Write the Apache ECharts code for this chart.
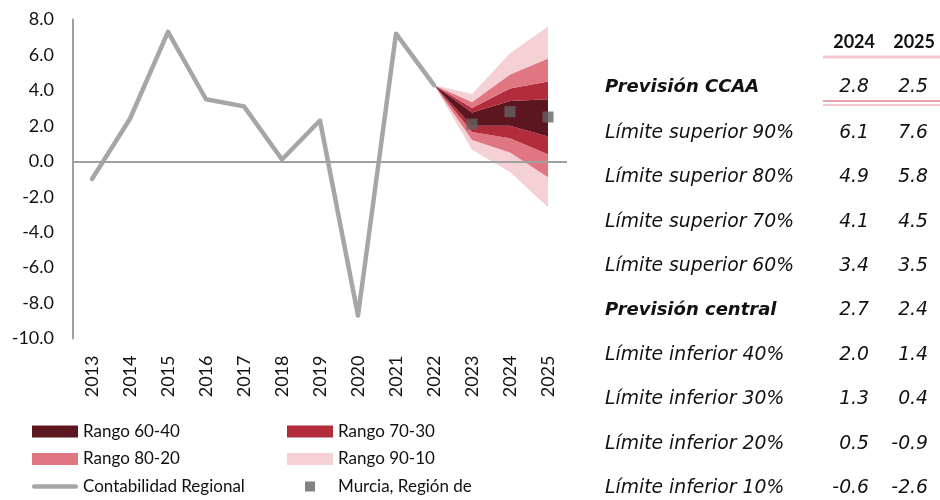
<!DOCTYPE html>
<html><head><meta charset="utf-8">
<script src="https://cdn.jsdelivr.net/npm/echarts@6/dist/echarts.min.js"></script>
<style>html,body{margin:0;padding:0;background:#fff}#c{width:940px;height:500px}</style>
</head><body><div id="c"></div><script>
// ---- data ----
const years = ['2013','2014','2015','2016','2017','2018','2019','2020','2021','2022','2023','2024','2025'];
const regional = [-1.0, 2.4, 7.3, 3.5, 3.1, 0.1, 2.3, -8.7, 7.2, 4.3, null, null, null];
const murcia = [null, null, null, null, null, null, null, null, null, null, 2.1, 2.8, 2.5];
const fanYears = ['2022','2023','2024','2025'];
const lim90 = [4.3, 3.8, 6.1, 7.6];
const lim80 = [4.3, 3.35, 4.9, 5.8];
const lim70 = [4.3, 3.0, 4.1, 4.5];
const lim60 = [4.3, 2.75, 3.4, 3.5];
const central = [4.3, 2.35, 2.7, 2.4];
const lim40 = [4.3, 2.0, 2.0, 1.4];
const lim30 = [4.3, 1.65, 1.3, 0.4];
const lim20 = [4.3, 1.2, 0.5, -0.9];
const lim10 = [4.3, 0.65, -0.6, -2.6];
const yTicks = {min: -10, max: 8, interval: 2};
const tableLabels = ['Límite superior 90%','Límite superior 80%','Límite superior 70%','Límite superior 60%','Previsión central','Límite inferior 40%','Límite inferior 30%','Límite inferior 20%','Límite inferior 10%'];
const tableYears = ['2024','2025'];

// ---- helpers ----
const C60 = '#5c1620', C70 = '#b32c3c', C80 = '#e07682', C90 = '#f5d1d6';
const pad = arr => years.map(y => { const i = fanYears.indexOf(y); return i < 0 ? null : arr[i]; });
const diff = (a, b) => a.map((v, i) => +(v - b[i]).toFixed(4));
function band(name, color, upper, lower) {
  return {name, type: 'line', stack: 'fan', stackStrategy: 'all', data: pad(diff(upper, lower)),
    symbol: 'none', lineStyle: {width: 0, opacity: 0}, areaStyle: {color, opacity: 1},
    color, itemStyle: {color}, silent: true, z: 1, animation: false};
}
const series = [
  {name: 'base', type: 'line', stack: 'fan', stackStrategy: 'all', data: pad(lim10), symbol: 'none',
   lineStyle: {width: 0, opacity: 0}, silent: true, z: 1, animation: false},
  band('Rango 90-10', C90, lim20, lim10),
  band('Rango 80-20', C80, lim30, lim20),
  band('Rango 70-30', C70, lim40, lim30),
  band('Rango 60-40', C60, lim60, lim40),
  band('Rango 70-30', C70, lim70, lim60),
  band('Rango 80-20', C80, lim80, lim70),
  band('Rango 90-10', C90, lim90, lim80),
  {name: 'Contabilidad Regional', type: 'line', data: regional, symbol: 'none', color: '#a6a6a6',
   lineStyle: {color: '#a6a6a6', width: 4.5, cap: 'round', join: 'round'}, z: 3, animation: false,
   markLine: {silent: true, symbol: 'none', label: {show: false}, animation: false,
     lineStyle: {color: '#a0a0a0', width: 2, type: 'solid'}, data: [{yAxis: 0}]}},
  {name: 'Murcia, Región de', type: 'scatter', data: murcia, symbol: 'rect', symbolSize: 11,
   color: '#636363', itemStyle: {color: '#636363'}, z: 4, animation: false}
];

// ---- table (graphic) ----
const TFONT = '"DejaVu Sans", sans-serif';
const REG = 'italic 18.8px ' + TFONT, BOLD = 'italic bold 18px ' + TFONT;
const idx24 = fanYears.indexOf('2024'), idx25 = fanYears.indexOf('2025');
const tableVals = [lim90, lim80, lim70, lim60, central, lim40, lim30, lim20, lim10];
const graphics = [];
function txt(text, x, y, font, align) {
  graphics.push({type: 'text', x, y, silent: true,
    style: {text, font, fill: '#111', align, verticalAlign: 'middle', textAlign: align, textVerticalAlign: 'middle'}});
}
txt(tableYears[0], 875, 42, 'bold 18px Lato', 'right');
txt(tableYears[1], 935, 42, 'bold 18px Lato', 'right');
graphics.push({type: 'rect', shape: {x: 823, y: 55.5, width: 117, height: 3}, style: {fill: '#f3c8ce'}, silent: true});
txt('Previsión CCAA', 605, 87, BOLD, 'left');
txt(murcia[years.indexOf('2024')].toFixed(1), 869, 87, REG, 'right');
txt(murcia[years.indexOf('2025')].toFixed(1), 928, 87, REG, 'right');
graphics.push({type: 'rect', shape: {x: 823, y: 100, width: 117, height: 2}, style: {fill: '#e9a3ab'}, silent: true});
graphics.push({type: 'rect', shape: {x: 823, y: 104, width: 117, height: 2}, style: {fill: '#f3c8ce'}, silent: true});
tableLabels.forEach((lab, i) => {
  const y = 133 + i * 44.4;
  const bold = lab.indexOf('Previsión') === 0;
  txt(lab, 605, y, bold ? BOLD : REG, 'left');
  txt(tableVals[i][idx24].toFixed(1), 869, y, REG, 'right');
  txt(tableVals[i][idx25].toFixed(1), 928, y, REG, 'right');
});

// ---- legends: one per item so they sit on a fixed 2x3 grid ----
const lineIcon = 'path://M2.5,0 L48.5,0 A2.5,2.5 0 0 1 48.5,5 L2.5,5 A2.5,2.5 0 0 1 2.5,0 Z';
const squareIcon = 'path://M0,0 M46,12 M18,1 L28,1 L28,11 L18,11 Z';
const legendItems = [
  ['Rango 60-40', 'rect', 32, 431.5], ['Rango 70-30', 'rect', 287, 431.5],
  ['Rango 80-20', 'rect', 32, 459], ['Rango 90-10', 'rect', 287, 459],
  ['Contabilidad Regional', lineIcon, 32, 486.5], ['Murcia, Región de', squareIcon, 287, 486.5]
];
const legends = legendItems.map(([name, icon, left, cy]) => ({
  orient: 'horizontal', left, top: cy - 10, height: 20, itemWidth: 46, itemHeight: 12, padding: 0,
  selectedMode: false, itemStyle: {borderWidth: 0},
  textStyle: {fontFamily: 'Lato', fontSize: 17, color: '#111', lineHeight: 20, padding: 0},
  data: [{name, icon}]
}));

const chart = echarts.init(document.getElementById('c'), null, {renderer: 'canvas'});
chart.setOption({
  animation: false,
  backgroundColor: '#fff',
  grid: {left: 73, right: 373, top: 19.5, bottom: 161.5, containLabel: false},
  xAxis: {type: 'category', data: years, boundaryGap: true,
    axisLine: {show: false, onZero: false}, axisTick: {show: false},
    axisLabel: {rotate: 90, margin: 17, fontFamily: 'Lato', fontSize: 18, color: '#111', interval: 0}},
  yAxis: {type: 'value', min: yTicks.min, max: yTicks.max, interval: yTicks.interval,
    axisLine: {show: true, lineStyle: {color: '#a0a0a0', width: 2}}, axisTick: {show: false},
    splitLine: {show: false},
    axisLabel: {margin: 19, fontFamily: 'Lato', fontSize: 18, color: '#111', formatter: v => v.toFixed(1)}},
  legend: legends,
  graphic: graphics,
  series
});
</script></body></html>
